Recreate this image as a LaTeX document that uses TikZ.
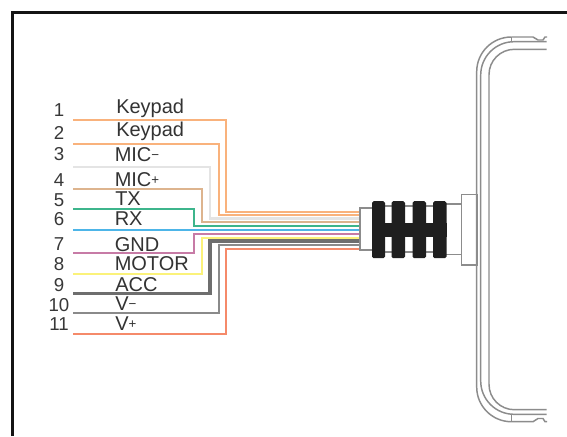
\documentclass[tikz,border=0pt]{standalone}
\usepackage{fontspec}
\setmainfont{Liberation Sans}
\definecolor{wOrange}{HTML}{F9B27C}
\definecolor{wGrey}{HTML}{E4E4E4}
\definecolor{wTan}{HTML}{DDB48E}
\definecolor{wGreen}{HTML}{3DB58C}
\definecolor{wBlue}{HTML}{4DB5E8}
\definecolor{wPink}{HTML}{C77BA6}
\definecolor{wYellow}{HTML}{FBF27A}
\definecolor{wDark}{HTML}{6E6E6E}
\definecolor{wMid}{HTML}{8A8A8A}
\definecolor{wRed}{HTML}{F58A6A}
\definecolor{body}{HTML}{8C8C8C}
\tikzset{
 x=0.75pt,y=-0.75pt,
 wire/.style={line join=miter},
 num/.style={font=\fontsize{14}{14}\selectfont,text=black!78,inner sep=0pt,anchor=center},
 lab/.style={font=\fontsize{15}{15}\selectfont,text=black!80,inner sep=0pt,anchor=base west},
 outline/.style={draw=body,line width=1.1pt},
 blk/.style={fill=black!88,rounded corners=1.2pt},
}
\newcommand{\supm}{\raisebox{1.5pt}{\fontsize{10}{10}\selectfont −}}
\newcommand{\supp}{\raisebox{1.5pt}{\fontsize{10}{10}\selectfont +}}
\begin{document}
\begin{tikzpicture}
\useasboundingbox (0,0) rectangle (567,436);
\fill[white] (0,0) rectangle (567,436);
\draw[black!92,line width=1.7pt] (12.5,436) -- (12.5,12.5) -- (567,12.5);
% wires
\foreach \n/\c/\w/\ya/\xb/\yb in {
 1/wOrange/1.5pt/120.3/226/211.5,
 2/wOrange/1.5pt/143.7/218.7/215,
 3/wGrey/1.7pt/167/210/218.5,
 4/wTan/1.5pt/189/202/222,
 5/wGreen/1.5pt/209/194/225.7,
 7/wPink/1.4pt/253.3/194/234,
 9/wDark/2.6pt/293.3/210/241,
 8/wYellow/1.6pt/273.7/202/237.7,
 10/wMid/1.5pt/312.7/218.7/245,
 11/wRed/1.5pt/333.7/226/248.7}{
 \coordinate (s\n) at (73,\ya);
 \coordinate (k\n) at (\xb,\ya);
 \coordinate (m\n) at (\xb,\yb);
 \coordinate (e\n) at (360,\yb);
 \draw[wire,draw=\c,line width=\w] (s\n) -- (k\n) -- (m\n) -- (e\n);
}
\coordinate (s6) at (73,229.7);
\coordinate (e6) at (360,229.7);
\draw[wire,draw=wBlue,line width=1.5pt] (s6) -- (e6);
% numbers
\foreach \n/\y in {1/109.7,2/132.5,3/154,4/180,5/200,6/219.5,7/244.5,8/264,9/285,10/304.7,11/324}{
 \node[num] (n\n) at (59,\y) {\n};
}
% labels
\node[lab] (l1) at (116,113.3) {Keypad};
\node[lab] (l2) at (116,136.7) {Keypad};
\node[lab] (l3) at (114.5,161.7) {MIC\supm};
\node[lab] (l4) at (114.5,186) {MIC\supp};
\node[lab] (l5) at (115,205.7) {TX};
\node[lab] (l6) at (114.5,225.7) {RX};
\node[lab] (l7) at (114.5,251.3) {GND};
\node[lab] (l8) at (114.5,270.7) {MOTOR};
\node[lab] (l9) at (115,291) {ACC};
\node[lab] (l10) at (115,310.7) {V\supm};
\node[lab] (l11) at (115,330.7) {V\supp};
% connector
\draw[outline] (372,208) -- (360,208) -- (360,250) -- (372,250);
\draw[outline] (446,204) -- (462,204);
\draw[outline] (446,254.7) -- (462,254.7);
\fill[white] (373,206.5) rectangle (445,251.5);
\draw[outline] (372,206) -- (446,206);
\draw[outline] (372,252) -- (446,252);
\draw[outline,fill=white] (461.7,194.7) rectangle (477.3,265);
\foreach \a/\b in {372/385,391.5/405,412.5/426,433/446.5}{
 \fill[blk] (\a,201.2) rectangle (\b,258.2);
}
\fill[black!88] (372,222.5) rectangle (446.5,236.5);
% housing
\draw[outline,rounded corners=26pt] (511.7,37) -- (476.7,37) -- (476.7,421.7) -- (511.7,421.7);
\draw[outline,rounded corners=25pt] (546.7,41.7) -- (480.7,41.7) -- (480.7,414.3) -- (546.7,414.3);
\draw[outline,rounded corners=19pt] (546.7,49.3) -- (489,49.3) -- (489,409.7) -- (546.7,409.7);
\draw[outline] (511.7,37) -- (533,37) -- (538,40) -- (543,40) -- (545,37) -- (547,37);
\draw[outline] (511.7,37) -- (511.7,41.7);
\draw[outline] (511.7,421.7) -- (533,421.7) -- (538,418.5) -- (543,418.5) -- (545,421.7) -- (547,421.7);
\draw[outline] (511.7,421.7) -- (511.7,414.3);
\end{tikzpicture}
\end{document}
